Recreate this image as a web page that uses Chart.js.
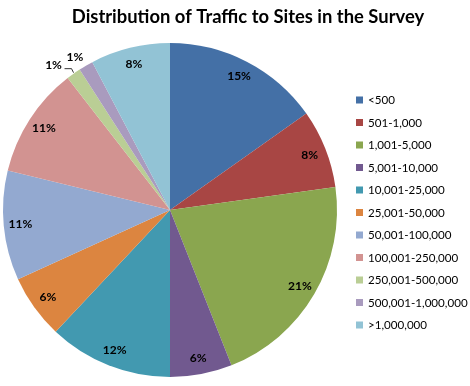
<!DOCTYPE html>
<html>
<head>
<meta charset="utf-8">
<script src="https://cdn.jsdelivr.net/npm/chart.js@4/dist/chart.umd.min.js"></script>
<style>
  html, body { margin: 0; padding: 0; background: #fff; }
  #wrap { width: 470px; height: 386px; position: relative; }
</style>
</head>
<body>
<div id="wrap"><canvas id="pie"></canvas></div>
<script>
/* ── data ── */
const titleText = 'Distribution of Traffic to Sites in the Survey';
const categories = ['<500', '501-1,000', '1,001-5,000', '5,001-10,000', '10,001-25,000',
    '25,001-50,000', '50,001-100,000', '100,001-250,000', '250,001-500,000',
    '500,001-1,000,000', '>1,000,000'];
const shares = [15.2, 7.6, 21.2, 6.0, 12.0, 6.2, 10.6, 10.7, 1.4, 1.4, 7.7];
const colors = ['#4470A6', '#A84644', '#8AA64F', '#71598F', '#4299B0', '#DC8540',
    '#93A9D0', '#D29391', '#BACE95', '#A99BBE', '#92C3D5'];

/* ── title + legend + slice labels ── */
const FONT = 'Lato, "Liberation Sans", sans-serif';

const decorPlugin = {
    id: 'decor',
    afterDraw(chart) {
        const ctx = chart.ctx;
        ctx.save();

        // title
        ctx.fillStyle = '#000';
        ctx.font = 'bold 18.4px ' + FONT;
        ctx.textAlign = 'center';
        ctx.textBaseline = 'middle';
        ctx.fillText(titleText, 248, 17);

        // legend
        ctx.font = '11.6px ' + FONT;
        ctx.textAlign = 'left';
        categories.forEach((c, i) => {
            const y = 100 + i * 22.5;
            ctx.fillStyle = colors[i];
            ctx.fillRect(356, y - 3.5, 7, 7);
            ctx.fillStyle = '#000';
            ctx.fillText(c, 368, y + 0.5);
        });

        // percent labels
        const meta = chart.getDatasetMeta(0);
        const total = shares.reduce((a, b) => a + b, 0);
        ctx.font = 'bold 12px ' + FONT;
        ctx.textAlign = 'center';
        meta.data.forEach((arc, i) => {
            const p = arc.getProps(['x', 'y', 'startAngle', 'endAngle', 'outerRadius'], true);
            const mid = (p.startAngle + p.endAngle) / 2;
            const txt = Math.round(shares[i] / total * 100) + '%';
            ctx.fillStyle = '#000';
            if (shares[i] < 3) {
                const ex = p.x + Math.cos(mid) * p.outerRadius;
                const ey = p.y + Math.sin(mid) * p.outerRadius;
                const off = i === 8 ? [-20, -9] : [-11, -9];
                ctx.fillText(txt, ex + off[0], ey + off[1]);
                if (i === 8) {
                    ctx.strokeStyle = '#000';
                    ctx.lineWidth = 0.8;
                    ctx.beginPath();
                    ctx.moveTo(ex, ey - 1);
                    ctx.lineTo(ex - 2, ey - 5);
                    ctx.lineTo(ex - 9, ey - 5);
                    ctx.stroke();
                }
            } else {
                const r = p.outerRadius * 0.9;
                ctx.fillText(txt, p.x + Math.cos(mid) * r, p.y + Math.sin(mid) * r);
            }
        });
        ctx.restore();
    }
};

new Chart(document.getElementById('pie'), {
    type: 'pie',
    data: {
        labels: categories,
        datasets: [{
            data: shares,
            backgroundColor: colors,
            borderWidth: 0
        }]
    },
    options: {
        responsive: true,
        maintainAspectRatio: false,
        animation: false,
        layout: { padding: { left: 3, right: 133, top: 43, bottom: 9 } },
        plugins: {
            legend: { display: false },
            title: { display: false },
            tooltip: { enabled: false }
        }
    },
    plugins: [decorPlugin]
});
</script>
</body>
</html>
